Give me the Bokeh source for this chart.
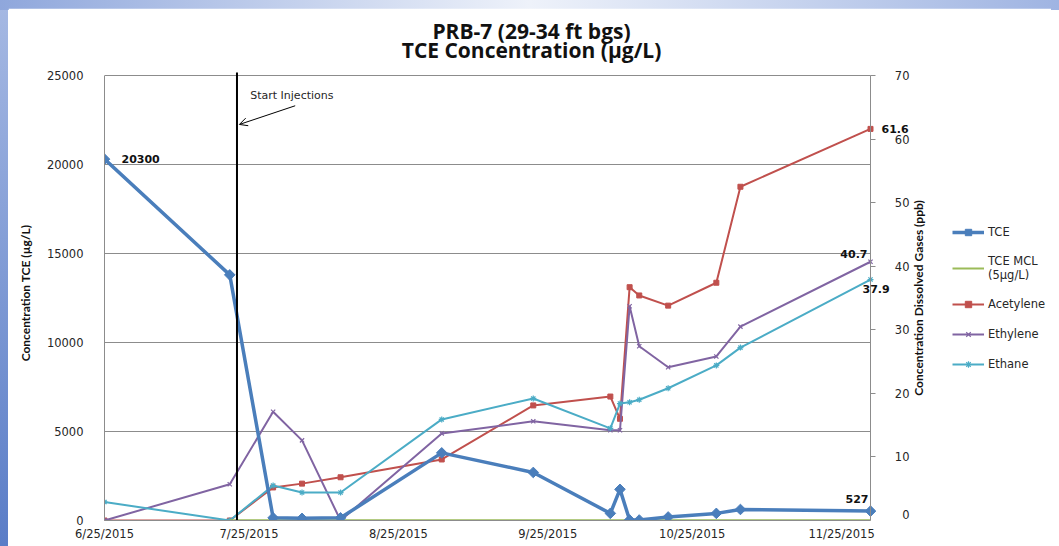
import math
import pandas as pd
from bokeh.plotting import figure
from bokeh.models import (Range1d, LinearAxis, FixedTicker, Label, Arrow,
                          OpenHead, Legend, LegendItem, CustomJSTickFormatter)
from bokeh.embed import file_html
from bokeh.resources import INLINE

# ---------------- data ----------------
dates = ["2015-06-25", "2015-07-21", "2015-07-30", "2015-08-05", "2015-08-13",
         "2015-09-03", "2015-09-22", "2015-10-08", "2015-10-10", "2015-10-12",
         "2015-10-14", "2015-10-20", "2015-10-30", "2015-11-04", "2015-12-01"]
tce = [20300, 13800, 150, 120, 150, 3800, 2700, 400, 1750, 30, 30, 200, 400, 620, 527]
mcl_dates = dates[1:]
mcl = [5] * len(mcl_dates)
acetylene = [0, 0, 5.2, 5.8, 6.8, 9.6, 18.1, 19.5, 16.0, 36.7, 35.4, 33.8, 37.4, 52.5, 61.6]
ethylene = [0, 5.7, 17.1, 12.6, 0, 13.7, 15.6, 14.2, 14.2, 33.7, 27.4, 24.1, 25.8, 30.5, 40.7]
ethane = [2.9, 0, 5.5, 4.4, 4.4, 15.9, 19.2, 14.5, 18.4, 18.6, 19.0, 20.8, 24.4, 27.2, 37.9]

tick_dates = ["2015-06-25", "2015-07-25", "2015-08-25", "2015-09-25", "2015-10-25", "2015-11-25"]
left_ticks = [0, 5000, 10000, 15000, 20000, 25000]
right_ticks = [0, 10, 20, 30, 40, 50, 60, 70]
injection_date = "2015-07-22 12:00"

title1 = "PRB-7 (29-34 ft bgs)"
title2 = "TCE Concentration (µg/L)"
left_label = "Concentration TCE (µg/L)"
right_label = "Concentration Dissolved Gases (ppb)"


def ms(s):
    return pd.Timestamp(s).value / 1e6


x = [pd.Timestamp(d) for d in dates]
xm = [pd.Timestamp(d) for d in mcl_dates]

C_TCE = "#4A7EBB"
C_MCL = "#9BBB59"
C_ACE = "#C0504D"
C_ETHY = "#8064A2"
C_ETHA = "#4BACC6"
GRID = "#8C8C8C"
TXT = "#262626"

# ---------------- geometry ----------------
W, H = 1043, 538
BL = 96                 # left border
PLOT_TOP = 67           # top of the value scale (from figure top)
PLOT_H = 445            # height of the value scale
PAD_T = 10              # room kept inside the plot area above the scale
BB = H - PLOT_TOP - PLOT_H
DATA_W = 766            # width of the dated part
FRAME_W = W - BL

x0 = ms(dates[0])
x_last = ms(dates[-1])
px_ms = DATA_W / (x_last - x0)
x_end = x0 + FRAME_W / px_ms
y_top = left_ticks[-1]
g_top = right_ticks[-1]
px_y = PLOT_H / y_top
px_g = PLOT_H / g_top


def xat(px):
    return x0 + px / px_ms


p = figure(width=W, height=H, x_axis_type="datetime",
           x_range=Range1d(x0, x_end),
           y_range=Range1d(0, y_top + PAD_T / px_y),
           output_backend="svg", toolbar_location=None,
           min_border_left=BL, min_border_right=0,
           min_border_top=PLOT_TOP - PAD_T, min_border_bottom=BB)
p.extra_y_ranges = {"gas": Range1d(0, g_top + PAD_T / px_g)}
p.outline_line_color = None
p.background_fill_color = "white"
p.border_fill_color = "white"
p.xgrid.visible = False
p.ygrid.visible = False

# x axis (line limited to the dated part)
xa = p.xaxis[0]
xa.bounds = (x0, x_last)
xa.ticker = FixedTicker(ticks=[ms(d) for d in tick_dates])
xa.formatter = CustomJSTickFormatter(code="""
const d = new Date(tick);
return (d.getUTCMonth()+1) + "/" + d.getUTCDate() + "/" + d.getUTCFullYear();
""")
xa.axis_line_color = GRID
xa.major_tick_line_color = None
xa.minor_tick_line_color = None
xa.major_label_standoff = 0
xa.major_label_text_font = "DejaVu Sans"
xa.major_label_text_font_size = "11.5px"
xa.major_label_text_color = TXT

# left axis
ya = p.yaxis[0]
ya.bounds = (0, y_top)
ya.ticker = FixedTicker(ticks=left_ticks)
ya.axis_line_color = GRID
ya.major_tick_line_color = None
ya.minor_tick_line_color = None
ya.major_label_standoff = 15
ya.major_label_text_font = "DejaVu Sans"
ya.major_label_text_font_size = "11.5px"
ya.major_label_text_color = TXT
ya.axis_label = left_label
ya.axis_label_text_font = "Lato"
ya.axis_label_text_font_style = "bold"
ya.axis_label_text_font_size = "12px"
ya.axis_label_text_color = "#111111"
ya.axis_label_standoff = 11


# secondary (gas) axis pinned at the last sample date
def gas_axis(ticks, fmt=None, tick_len=5, line=True):
    ax = LinearAxis(y_range_name="gas", ticker=FixedTicker(ticks=ticks),
                    fixed_location=x_last, bounds=(0, g_top))
    if fmt is not None:
        ax.formatter = CustomJSTickFormatter(args=dict(t=fmt), code="return t")
    ax.axis_line_color = GRID if line else None
    ax.major_tick_line_color = GRID if tick_len else None
    ax.major_tick_out = 0
    ax.major_tick_in = tick_len
    ax.minor_tick_line_color = None
    ax.major_label_standoff = -39
    ax.major_label_text_font = "DejaVu Sans"
    ax.major_label_text_font_size = "11.5px"
    ax.major_label_text_color = TXT
    p.add_layout(ax, "left")


gas_axis(right_ticks[1:])
# the zero label sits on the bottom edge of the plot area: lift it so it stays whole
gas_axis([right_ticks[0] + 6 / px_g], fmt=str(right_ticks[0]), tick_len=0, line=False)

p.add_layout(Label(x=xat(814), y=y_top / 2, text=right_label, angle=math.pi / 2,
                   text_font="Lato", text_font_style="bold", text_font_size="12px",
                   text_color="#111111", text_align="center", text_baseline="middle"))

# horizontal grid lines (limited to the dated part)
p.segment(x0=[x0] * len(left_ticks), x1=[x_last] * len(left_ticks),
          y0=left_ticks, y1=left_ticks, line_color=GRID, line_width=1)

# series
ace_l = p.line(x, acetylene, y_range_name="gas", color=C_ACE, line_width=2)
ace_s = p.scatter(x, acetylene, y_range_name="gas", marker="square", size=5, color=C_ACE)
ethy_l = p.line(x, ethylene, y_range_name="gas", color=C_ETHY, line_width=2)
ethy_s = p.scatter(x, ethylene, y_range_name="gas", marker="x", size=6, color=C_ETHY, line_width=1.2)
etha_l = p.line(x, ethane, y_range_name="gas", color=C_ETHA, line_width=2)
etha_s = p.scatter(x, ethane, y_range_name="gas", marker="asterisk", size=6, color=C_ETHA, line_width=1.2)
mcl_l = p.line(xm, mcl, color=C_MCL, line_width=2.2)
tce_l = p.line(x, tce, color=C_TCE, line_width=3.5)
tce_s = p.scatter(x, tce, marker="square", angle=math.pi / 4, size=7.5, color=C_TCE)

# start injections
p.segment(x0=[ms(injection_date)], x1=[ms(injection_date)], y0=[0], y1=[y_top + 3 / px_y],
          line_color="black", line_width=2)
p.add_layout(Arrow(end=OpenHead(size=8, line_width=1, line_color="black"),
                   x_start=ms("2015-08-03 14:00"), y_start=23300,
                   x_end=ms("2015-07-23 00:00"), y_end=22250,
                   line_width=1, line_color="black"))
p.add_layout(Label(x=ms("2015-07-25 06:00"), y=23870, text="Start Injections",
                   text_font="DejaVu Sans", text_font_size="11px", text_color=TXT,
                   text_baseline="middle", text_align="left"))

# legend
legend = Legend(items=[
    LegendItem(label="TCE", renderers=[tce_l, tce_s]),
    LegendItem(label="TCE MCL\n(5µg/L)", renderers=[mcl_l]),
    LegendItem(label="Acetylene", renderers=[ace_l, ace_s]),
    LegendItem(label="Ethylene", renderers=[ethy_l, ethy_s]),
    LegendItem(label="Ethane", renderers=[etha_l, etha_s]),
], location=(848, 148), border_line_color=None, background_fill_alpha=0,
    padding=0, margin=0, spacing=14, glyph_width=32, glyph_height=16,
    label_height=16, label_standoff=4, label_text_font="DejaVu Sans",
    label_text_font_size="11.5px", label_text_color=TXT)
p.add_layout(legend)


# data labels
def dlabel(xv, yv, txt, align, xo, yo, rng="default"):
    p.add_layout(Label(x=ms(xv), y=yv, text=txt, x_offset=xo, y_offset=yo,
                       y_range_name=rng, text_font="DejaVu Sans", text_font_style="bold",
                       text_font_size="11px", text_color="#111111",
                       text_align=align, text_baseline="middle"))


dlabel(dates[0], tce[0], str(tce[0]), "left", 17, 0)
dlabel(dates[-1], tce[-1], str(tce[-1]), "right", -2, 12)
dlabel(dates[-1], acetylene[-1], str(acetylene[-1]), "left", 11, 0, "gas")
dlabel(dates[-1], ethylene[-1], str(ethylene[-1]), "right", -3, 8, "gas")
dlabel(dates[-1], ethane[-1], str(ethane[-1]), "left", -8, -9, "gas")

# two-line title, in the panel above the plot area
for txt, base in [(title1, 45), (title2, 26)]:
    p.add_layout(Label(x=xat(427), y=y_top + base / px_y, text=txt,
                       text_font="Open Sans", text_font_style="bold", text_font_size="21px",
                       text_color="#111111", text_align="center", text_baseline="alphabetic"),
                 "above")

html = file_html(p, INLINE)
css = ("<style>html,body{margin:0 !important;padding:0 !important;}"
       "body{padding:8px 0 0 8px !important;"
       "background: linear-gradient(to right, #8fa7dc, #eef2fa 50%, #9fb4e2) top left / 100% 10px no-repeat, "
       "linear-gradient(to bottom, #a6b9e3, #5a7dc7) top left / 8px 100% no-repeat, #ffffff !important;}</style>")
i = html.rfind("<body")
j = html.find(">", i) + 1
html = html[:j] + css + html[j:]
open("out.html", "w").write(html)
